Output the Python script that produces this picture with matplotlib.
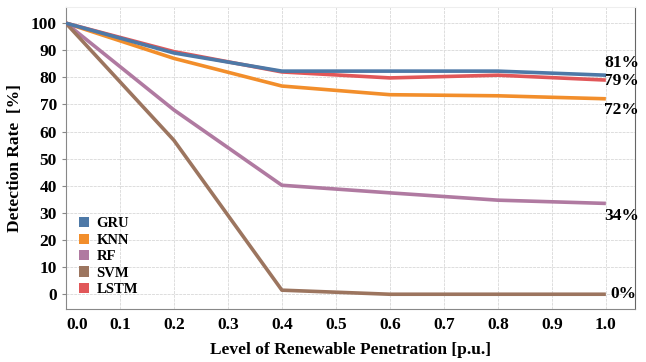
import matplotlib.pyplot as plt
from matplotlib.patches import Patch

plt.rcParams['font.family'] = ['Liberation Serif', 'DejaVu Serif']
plt.rcParams['font.weight'] = 'bold'

# penetration levels and detection rates (%)
levels = [0.0, 0.2, 0.4, 0.6, 0.8, 1.0]
gru = [100, 89.0, 82.3, 82.3, 82.3, 80.8]
knn = [100, 87.0, 76.8, 73.6, 73.2, 72.1]
rf = [100, 68.0, 40.2, 37.4, 34.7, 33.5]
svm = [100, 56.8, 1.5, 0, 0, 0]
lstm = [100, 89.5, 82.0, 79.8, 80.8, 79.0]

names = ['GRU', 'KNN', 'RF', 'SVM', 'LSTM']
colors = ['#4e79a7', '#f28e2b', '#b07aa1', '#9c755f', '#e15759']

fig = plt.figure(figsize=(6.46, 3.62), dpi=100)
ax = fig.add_axes([0.102, 0.146, 0.881, 0.835])

series = [gru, knn, rf, svm, lstm]
zorders = [5, 3, 3, 3, 4]
for vals, c, z in zip(series, colors, zorders):
    ax.plot(levels, vals, color=c, lw=2.6, zorder=z, solid_capstyle='butt')

# end labels
fs = 12.5
ax.text(1.029, 85.2, '81%', ha='center', va='center', fontsize=fs, fontweight='bold')
ax.text(1.029, 78.6, '79%', ha='center', va='center', fontsize=fs, fontweight='bold')
ax.text(1.029, 67.9, '72%', ha='center', va='center', fontsize=fs, fontweight='bold')
ax.text(1.029, 28.8, '34%', ha='center', va='center', fontsize=fs, fontweight='bold')
ax.text(1.032, 0, '0%', ha='center', va='center', fontsize=fs, fontweight='bold')

ax.set_xlim(0, 1.054)
ax.set_ylim(-5.5, 106)
ax.set_xticks([i / 10 for i in range(11)])
ax.set_xticklabels([f'{i / 10:.1f}' for i in range(11)])
ax.set_yticks(range(0, 101, 10))
ax.tick_params(labelsize=12.5, length=3, color='#888888')
ax.tick_params(axis='x', length=0, pad=6)
for lab in ax.get_xticklabels() + ax.get_yticklabels():
    lab.set_fontweight('bold')
ax.get_xticklabels()[0].set_horizontalalignment('left')

ax.grid(True, color='#dddddd', lw=0.7, ls=(0, (3, 1)))
ax.set_axisbelow(True)
ax.spines['left'].set_color('#888888')
ax.spines['bottom'].set_color('#888888')
ax.spines['right'].set_color('#666666')
ax.spines['top'].set_color('#eeeeee')

ax.set_xlabel('Level of Renewable Penetration [p.u.]', fontsize=12.5, fontweight='bold', labelpad=6)
ax.set_ylabel('Detection Rate  [%]', fontsize=12.5, fontweight='bold', labelpad=6)

handles = [Patch(facecolor=c, label=n) for n, c in zip(names, colors)]
ax.legend(handles=handles, loc='lower left', bbox_to_anchor=(0.0, 0.0), frameon=False,
          prop={'weight': 'bold', 'size': 10.5}, handlelength=0.7, handleheight=0.7,
          handletextpad=0.5, labelspacing=0.22)

fig.savefig('out.png', dpi=100)
